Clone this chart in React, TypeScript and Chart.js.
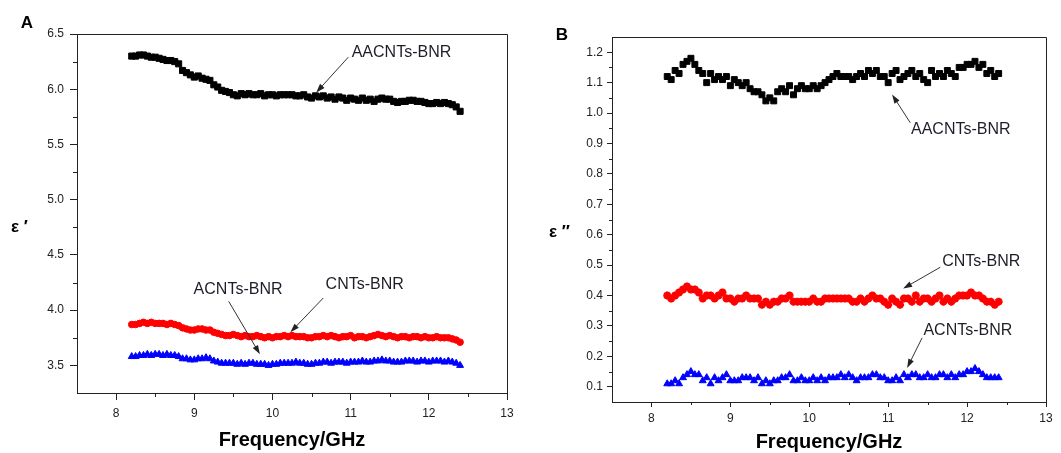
import React, { useEffect, useRef } from "react";
import { Chart, registerables } from "chart.js";

Chart.register(...registerables);

const FONT = "'Liberation Sans', Arial, sans-serif";

// Frequency (GHz)
const freq = [
  8.2, 8.25, 8.3, 8.35, 8.4, 8.45, 8.5, 8.55, 8.6, 8.65,
  8.7, 8.75, 8.8, 8.85, 8.9, 8.95, 9, 9.05, 9.1, 9.15,
  9.2, 9.25, 9.3, 9.35, 9.4, 9.45, 9.5, 9.55, 9.6, 9.65,
  9.7, 9.75, 9.8, 9.85, 9.9, 9.95, 10, 10.05, 10.1, 10.15,
  10.2, 10.25, 10.3, 10.35, 10.4, 10.45, 10.5, 10.55, 10.6, 10.65,
  10.7, 10.75, 10.8, 10.85, 10.9, 10.95, 11, 11.05, 11.1, 11.15,
  11.2, 11.25, 11.3, 11.35, 11.4, 11.45, 11.5, 11.55, 11.6, 11.65,
  11.7, 11.75, 11.8, 11.85, 11.9, 11.95, 12, 12.05, 12.1, 12.15,
  12.2, 12.25, 12.3, 12.35, 12.4,
];

// Panel A: real permittivity ε′
const realAACNTs = [
  6.30, 6.30, 6.31, 6.31, 6.30, 6.29, 6.29, 6.28, 6.27, 6.26,
  6.26, 6.25, 6.23, 6.17, 6.15, 6.13, 6.11, 6.12, 6.10, 6.09,
  6.08, 6.04, 6.02, 5.99, 5.98, 5.97, 5.95, 5.94, 5.96, 5.95,
  5.96, 5.95, 5.95, 5.96, 5.94, 5.95, 5.95, 5.94, 5.95, 5.95,
  5.95, 5.95, 5.94, 5.94, 5.95, 5.93, 5.92, 5.94, 5.93, 5.94,
  5.92, 5.93, 5.91, 5.93, 5.92, 5.90, 5.92, 5.91, 5.90, 5.92,
  5.90, 5.91, 5.89, 5.91, 5.92, 5.91, 5.91, 5.89, 5.88, 5.89,
  5.89, 5.90, 5.90, 5.89, 5.89, 5.88, 5.87, 5.87, 5.88, 5.87,
  5.88, 5.87, 5.86, 5.84, 5.80,
];
const realCNTs = [
  3.87, 3.87, 3.88, 3.89, 3.88, 3.89, 3.88, 3.88, 3.88, 3.87,
  3.88, 3.87, 3.86, 3.84, 3.83, 3.82, 3.82, 3.83, 3.83, 3.82,
  3.82, 3.80, 3.79, 3.78, 3.77, 3.77, 3.78, 3.77, 3.76, 3.77,
  3.76, 3.76, 3.77, 3.76, 3.75, 3.76, 3.75, 3.76, 3.76, 3.77,
  3.76, 3.77, 3.76, 3.76, 3.76, 3.75, 3.75, 3.76, 3.76, 3.77,
  3.76, 3.77, 3.76, 3.75, 3.76, 3.76, 3.77, 3.75, 3.76, 3.76,
  3.75, 3.76, 3.77, 3.78, 3.77, 3.76, 3.77, 3.76, 3.75, 3.76,
  3.76, 3.75, 3.76, 3.76, 3.75, 3.76, 3.75, 3.75, 3.76, 3.75,
  3.75, 3.75, 3.74, 3.73, 3.71,
];
const realACNTs = [
  3.58, 3.58, 3.59, 3.59, 3.60, 3.59, 3.60, 3.60, 3.59, 3.60,
  3.59, 3.59, 3.58, 3.56, 3.56, 3.55, 3.55, 3.56, 3.56, 3.57,
  3.56, 3.54, 3.53, 3.52, 3.52, 3.52, 3.52, 3.51, 3.52, 3.51,
  3.52, 3.52, 3.51, 3.51, 3.51, 3.50, 3.51, 3.51, 3.52, 3.52,
  3.52, 3.52, 3.53, 3.52, 3.52, 3.51, 3.51, 3.52, 3.52, 3.53,
  3.53, 3.52, 3.53, 3.53, 3.53, 3.52, 3.53, 3.53, 3.53, 3.54,
  3.53, 3.53, 3.54, 3.54, 3.55, 3.54, 3.54, 3.53, 3.53, 3.53,
  3.54, 3.54, 3.54, 3.53, 3.54, 3.54, 3.53, 3.54, 3.54, 3.54,
  3.53, 3.54, 3.53, 3.52, 3.50,
];

// Panel B: imaginary permittivity ε″
const imagAACNTs = [
  1.12, 1.11, 1.14, 1.13, 1.16, 1.17, 1.18, 1.16, 1.14, 1.13,
  1.10, 1.13, 1.11, 1.12, 1.11, 1.12, 1.09, 1.11, 1.10, 1.09,
  1.10, 1.08, 1.07, 1.07, 1.06, 1.04, 1.05, 1.04, 1.07, 1.08,
  1.07, 1.09, 1.06, 1.08, 1.09, 1.08, 1.08, 1.09, 1.08, 1.09,
  1.10, 1.11, 1.12, 1.13, 1.12, 1.12, 1.12, 1.11, 1.12, 1.13,
  1.12, 1.14, 1.13, 1.14, 1.12, 1.12, 1.10, 1.13, 1.14, 1.11,
  1.12, 1.13, 1.14, 1.12, 1.13, 1.11, 1.10, 1.14, 1.12, 1.13,
  1.12, 1.14, 1.13, 1.12, 1.15, 1.15, 1.16, 1.16, 1.17, 1.15,
  1.16, 1.13, 1.14, 1.12, 1.13,
];
const imagCNTs = [
  0.40, 0.39, 0.40, 0.41, 0.42, 0.43, 0.42, 0.42, 0.41, 0.39,
  0.40, 0.40, 0.39, 0.40, 0.41, 0.39, 0.39, 0.38, 0.39, 0.39,
  0.40, 0.39, 0.39, 0.39, 0.37, 0.38, 0.37, 0.38, 0.38, 0.39,
  0.39, 0.40, 0.38, 0.38, 0.38, 0.38, 0.38, 0.39, 0.38, 0.38,
  0.39, 0.39, 0.39, 0.39, 0.39, 0.39, 0.39, 0.38, 0.38, 0.39,
  0.38, 0.39, 0.40, 0.39, 0.39, 0.38, 0.37, 0.39, 0.38, 0.37,
  0.39, 0.39, 0.38, 0.40, 0.38, 0.39, 0.39, 0.38, 0.39, 0.40,
  0.38, 0.39, 0.38, 0.39, 0.40, 0.40, 0.40, 0.41, 0.40, 0.40,
  0.39, 0.38, 0.38, 0.37, 0.38,
];
const imagACNTs = [
  0.11, 0.11, 0.12, 0.11, 0.13, 0.14, 0.15, 0.14, 0.14, 0.12,
  0.13, 0.11, 0.13, 0.12, 0.13, 0.14, 0.12, 0.12, 0.12, 0.13,
  0.13, 0.13, 0.12, 0.13, 0.11, 0.12, 0.11, 0.12, 0.12, 0.13,
  0.13, 0.14, 0.12, 0.12, 0.13, 0.12, 0.12, 0.13, 0.12, 0.13,
  0.12, 0.13, 0.13, 0.13, 0.14, 0.13, 0.14, 0.13, 0.12, 0.13,
  0.13, 0.13, 0.14, 0.14, 0.13, 0.13, 0.12, 0.12, 0.13, 0.12,
  0.14, 0.13, 0.14, 0.14, 0.13, 0.13, 0.14, 0.13, 0.13, 0.14,
  0.14, 0.13, 0.14, 0.13, 0.14, 0.14, 0.15, 0.15, 0.16, 0.15,
  0.14, 0.13, 0.13, 0.13, 0.13,
];

// Tick values
const xTicks = [8, 9, 10, 11, 12, 13];
const xMinorTicks = [8.5, 9.5, 10.5, 11.5, 12.5];
const yTicksA = [3.5, 4.0, 4.5, 5.0, 5.5, 6.0, 6.5];
const yMinorA = [3.75, 4.25, 4.75, 5.25, 5.75, 6.25];
const yTicksB = [0.1, 0.2, 0.3, 0.4, 0.5, 0.6, 0.7, 0.8, 0.9, 1.0, 1.1, 1.2];
const yMinorB = [0.15, 0.25, 0.35, 0.45, 0.55, 0.65, 0.75, 0.85, 0.95, 1.05, 1.15];

// Series labels
const seriesNames = ["AACNTs-BNR", "CNTs-BNR", "ACNTs-BNR"];

const toPts = (ys: number[]) => ys.map((y, i) => ({ x: freq[i], y }));

const decorPlugin = {
  id: "panelDecor",
  afterDraw(chart: any, _args: any, opts: any) {
    const { ctx, chartArea: ca, scales } = chart;
    const xs = scales.x;
    const ys = scales.y;
    ctx.save();
    // top & right frame
    ctx.strokeStyle = "#222";
    ctx.lineWidth = 1;
    ctx.beginPath();
    ctx.moveTo(ca.left, Math.round(ca.top) + 0.5);
    ctx.lineTo(Math.round(ca.right) + 0.5, Math.round(ca.top) + 0.5);
    ctx.lineTo(Math.round(ca.right) + 0.5, ca.bottom);
    ctx.stroke();
    // minor ticks
    ctx.beginPath();
    for (const v of opts.xMinor) {
      const px = Math.round(xs.getPixelForValue(v)) + 0.5;
      ctx.moveTo(px, ca.bottom);
      ctx.lineTo(px, ca.bottom + opts.minorLen);
    }
    for (const v of opts.yMinor) {
      const py = Math.round(ys.getPixelForValue(v)) + 0.5;
      ctx.moveTo(ca.left, py);
      ctx.lineTo(ca.left - opts.minorLen, py);
    }
    ctx.stroke();

    // annotations
    ctx.fillStyle = "#1e1e28";
    ctx.strokeStyle = "#333";
    ctx.font = `16px ${FONT}`;
    ctx.textAlign = "center";
    ctx.textBaseline = "middle";
    for (const a of opts.notes) {
      ctx.fillText(a.text, xs.getPixelForValue(a.tx), ys.getPixelForValue(a.ty));
      const x0 = xs.getPixelForValue(a.x0);
      const y0 = ys.getPixelForValue(a.y0);
      const x1 = xs.getPixelForValue(a.x1);
      const y1 = ys.getPixelForValue(a.y1);
      const ang = Math.atan2(y1 - y0, x1 - x0);
      const hl = 9;
      const hw = 3;
      ctx.beginPath();
      ctx.moveTo(x0, y0);
      ctx.lineTo(x1 - Math.cos(ang) * hl * 0.8, y1 - Math.sin(ang) * hl * 0.8);
      ctx.stroke();
      ctx.beginPath();
      ctx.moveTo(x1, y1);
      ctx.lineTo(
        x1 - Math.cos(ang) * hl - Math.sin(ang) * hw,
        y1 - Math.sin(ang) * hl + Math.cos(ang) * hw
      );
      ctx.lineTo(
        x1 - Math.cos(ang) * hl + Math.sin(ang) * hw,
        y1 - Math.sin(ang) * hl - Math.cos(ang) * hw
      );
      ctx.closePath();
      ctx.fillStyle = "#222";
      ctx.fill();
      ctx.fillStyle = "#1e1e28";
    }

    // panel letter
    ctx.fillStyle = "#000";
    ctx.font = `bold 17px ${FONT}`;
    ctx.fillText(opts.letter, opts.letterX, opts.letterY);
    // y title
    ctx.font = `bold 17px ${FONT}`;
    ctx.textAlign = "left";
    ctx.fillText(opts.yTitle, opts.yTitleX, opts.yTitleY);
    // x title
    ctx.textAlign = "center";
    ctx.font = `bold 20px ${FONT}`;
    ctx.fillText("Frequency/GHz", (ca.left + ca.right) / 2, opts.xTitleY);
    ctx.restore();
  },
};

type PanelCfg = {
  width: number;
  ymin: number;
  ymax: number;
  yTicks: number[];
  yMinor: number[];
  series: { data: number[]; color: string; style: string; radius: number; border: number }[];
  leftW: number;
  padRight: number;
  padTop: number;
  xAxisH: number;
  tickLen: number;
  xPad: number;
  yPad: number;
  minorLen: number;
  decor: any;
};

function Panel({ cfg }: { cfg: PanelCfg }) {
  const ref = useRef<HTMLCanvasElement>(null);
  useEffect(() => {
    if (!ref.current) return;
    const tickFont = { family: FONT, size: 12 };
    const chart = new Chart(ref.current, {
      type: "scatter",
      data: {
        datasets: cfg.series.map((s, i) => ({
          label: seriesNames[i],
          data: toPts(s.data),
          showLine: false,
          pointStyle: s.style as any,
          pointRadius: s.radius,
          pointBorderWidth: s.border,
          backgroundColor: s.color,
          borderColor: s.color,
        })),
      },
      options: {
        animation: false,
        responsive: false,
        devicePixelRatio: 1,
        events: [],
        layout: { padding: { left: 0, right: cfg.padRight, top: cfg.padTop, bottom: 0 } },
        plugins: {
          legend: { display: false },
          tooltip: { enabled: false },
          panelDecor: { ...cfg.decor, xMinor: xMinorTicks, yMinor: cfg.yMinor, minorLen: cfg.minorLen },
        } as any,
        scales: {
          x: {
            type: "linear",
            min: 7.5,
            max: 13,
            afterBuildTicks: (sc: any) => {
              sc.ticks = xTicks.map((v) => ({ value: v }));
            },
            afterFit: (sc: any) => {
              sc.height = cfg.xAxisH;
            },
            grid: { display: true, drawOnChartArea: false, tickLength: cfg.tickLen, tickColor: "#222" },
            border: { display: true, color: "#222", width: 1 },
            ticks: {
              font: tickFont,
              color: "#222",
              padding: cfg.xPad,
              maxRotation: 0,
              autoSkip: false,
              callback: (v: any) => String(v),
            },
          },
          y: {
            type: "linear",
            min: cfg.ymin,
            max: cfg.ymax,
            afterBuildTicks: (sc: any) => {
              sc.ticks = cfg.yTicks.map((v) => ({ value: v }));
            },
            afterFit: (sc: any) => {
              sc.width = cfg.leftW;
            },
            grid: { display: true, drawOnChartArea: false, tickLength: cfg.tickLen, tickColor: "#222" },
            border: { display: true, color: "#222", width: 1 },
            ticks: {
              font: tickFont,
              color: "#222",
              padding: cfg.yPad,
              autoSkip: false,
              callback: (v: any) => Number(v).toFixed(1),
            },
          },
        },
      },
      plugins: [decorPlugin],
    });
    return () => chart.destroy();
  }, [cfg]);
  return (
    <canvas
      ref={ref}
      width={cfg.width}
      height={453}
      style={{ width: cfg.width, height: 453, display: "block" }}
    />
  );
}

const panelA: PanelCfg = {
  width: 530,
  ymin: 3.25,
  ymax: 6.5,
  yTicks: yTicksA,
  yMinor: yMinorA,
  series: [
    { data: realAACNTs, color: "#000000", style: "rect", radius: 4.3, border: 1 },
    { data: realCNTs, color: "#ff0000", style: "circle", radius: 3.3, border: 1 },
    { data: realACNTs, color: "#0000ff", style: "triangle", radius: 4, border: 1 },
  ],
  leftW: 77,
  padRight: 23,
  padTop: 34,
  xAxisH: 60,
  tickLen: 7,
  xPad: 6,
  yPad: 6,
  minorLen: 4,
  decor: {
    letter: "A",
    letterX: 27,
    letterY: 23,
    yTitle: "ε ′",
    yTitleX: 11,
    yTitleY: 227,
    xTitleY: 440,
    notes: [
      { text: "AACNTs-BNR", tx: 11.65, ty: 6.33, x0: 10.97, y0: 6.29, x1: 10.56, y1: 5.97 },
      { text: "CNTs-BNR", tx: 11.18, ty: 4.23, x0: 10.65, y0: 4.11, x1: 10.23, y1: 3.8 },
      { text: "ACNTs-BNR", tx: 9.56, ty: 4.19, x0: 9.44, y0: 4.08, x1: 9.84, y1: 3.6 },
    ],
  },
};

const panelB: PanelCfg = {
  width: 531,
  ymin: 0.05,
  ymax: 1.25,
  yTicks: yTicksB,
  yMinor: yMinorB,
  series: [
    { data: imagAACNTs, color: "#000000", style: "rect", radius: 4.2, border: 1 },
    { data: imagCNTs, color: "#ff0000", style: "star", radius: 4, border: 2.5 },
    { data: imagACNTs, color: "#0000ff", style: "triangle", radius: 4, border: 1 },
  ],
  leftW: 82,
  padRight: 15,
  padTop: 37,
  xAxisH: 51,
  tickLen: 5,
  xPad: 4,
  yPad: 4,
  minorLen: 3,
  decor: {
    letter: "B",
    letterX: 32,
    letterY: 35,
    yTitle: "ε ″",
    yTitleX: 19,
    yTitleY: 232,
    xTitleY: 442,
    notes: [
      { text: "AACNTs-BNR", tx: 11.92, ty: 0.945, x0: 11.28, y0: 0.968, x1: 11.05, y1: 1.061 },
      { text: "CNTs-BNR", tx: 12.18, ty: 0.51, x0: 11.66, y0: 0.493, x1: 11.19, y1: 0.423 },
      { text: "ACNTs-BNR", tx: 12.01, ty: 0.284, x0: 11.43, y0: 0.261, x1: 11.24, y1: 0.162 },
    ],
  },
};

export default function App() {
  return (
    <div
      style={{
        position: "absolute",
        left: 0,
        top: 0,
        width: 1061,
        height: 453,
        background: "#ffffff",
        overflow: "hidden",
      }}
    >
      <div style={{ position: "absolute", left: 0, top: 0 }}>
        <Panel cfg={panelA} />
      </div>
      <div style={{ position: "absolute", left: 530, top: 0 }}>
        <Panel cfg={panelB} />
      </div>
    </div>
  );
}
